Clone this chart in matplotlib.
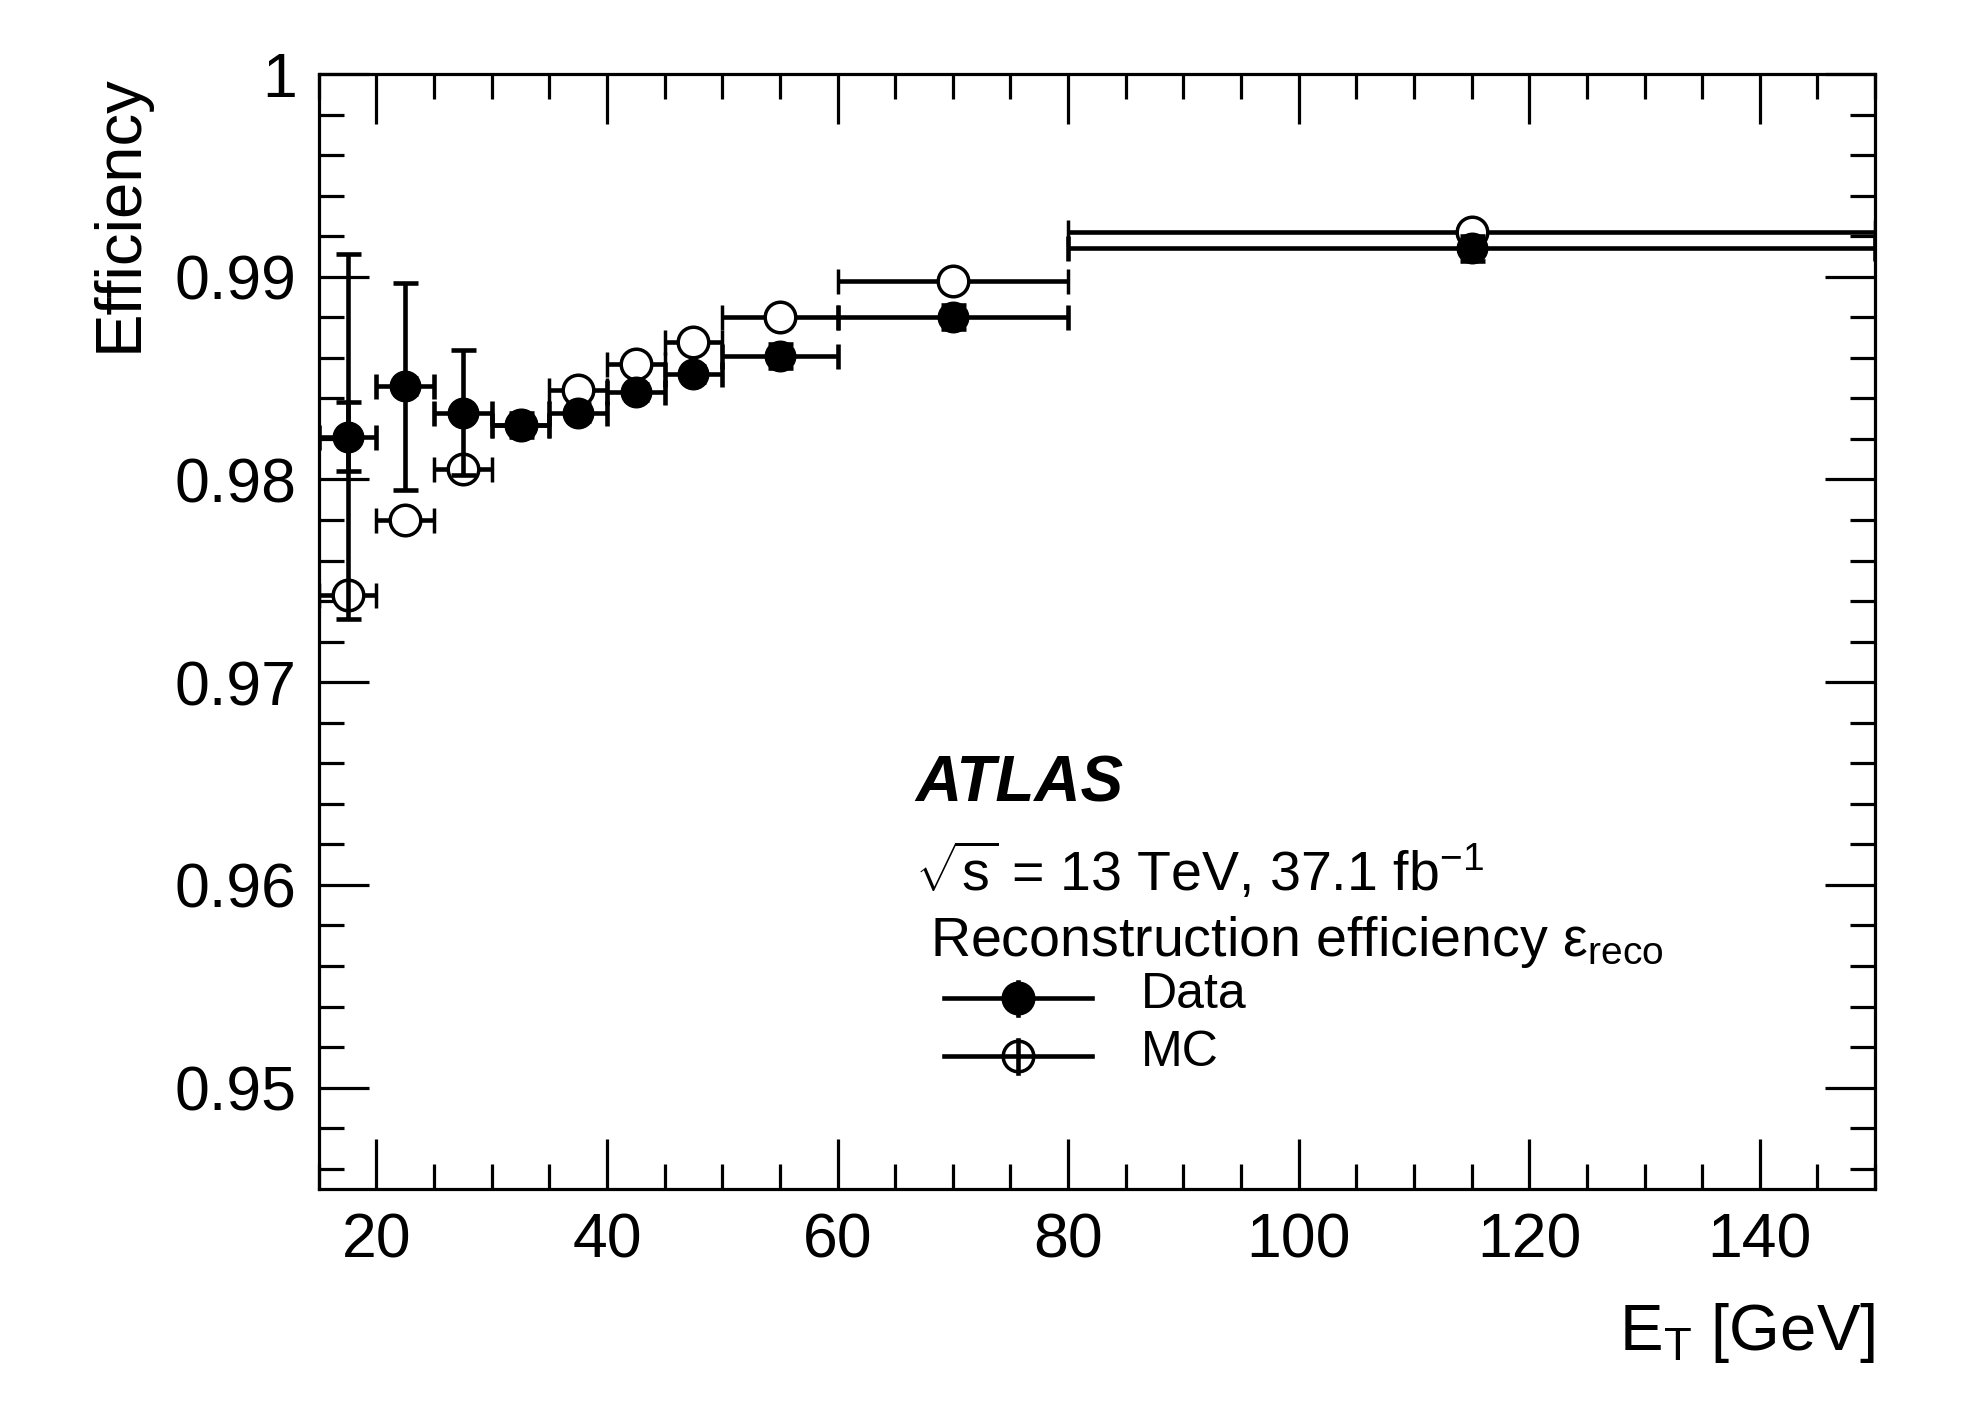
import numpy as np
import matplotlib
matplotlib.use("Agg")
import matplotlib.pyplot as plt
from matplotlib.ticker import MultipleLocator

plt.rcParams["font.family"] = ["Liberation Sans", "DejaVu Sans"]
plt.rcParams["mathtext.fontset"] = "custom"
plt.rcParams["mathtext.rm"] = "Liberation Sans"
plt.rcParams["mathtext.it"] = "Liberation Sans:italic"

# bins in E_T [GeV]
bin_lo = np.array([15, 20, 25, 30, 35, 40, 45, 50, 60, 80])
bin_hi = np.array([20, 25, 30, 35, 40, 45, 50, 60, 80, 150])
data_eff = np.array([0.9821, 0.9846, 0.9833, 0.9827, 0.9833, 0.9843, 0.9852, 0.9861, 0.9880, 0.9914])
data_err = np.array([0.0090, 0.0051, 0.0031, 0.0006, 0.0004, 0.0004, 0.0004, 0.0006, 0.0006, 0.0006])
data_stat = np.array([0.0017, 0.0004, 0.0003, 0.0003, 0.0003, 0.0003, 0.0003, 0.0003, 0.0003, 0.0003])
mc_eff = np.array([0.9743, 0.9780, 0.9805, 0.9827, 0.9844, 0.9857, 0.9868, 0.9880, 0.9898, 0.9922])
mc_err = np.array([0.0002, 0.0002, 0.0002, 0.0002, 0.0002, 0.0002, 0.0002, 0.0002, 0.0002, 0.0002])

x = (bin_lo + bin_hi) / 2
xerr = (bin_hi - bin_lo) / 2

fig = plt.figure(figsize=(19.8, 14.24), dpi=100)
ax = fig.add_axes([0.161, 0.165, 0.786, 0.783])

lw = 3.3
ms = 22
ax.errorbar(x, mc_eff, xerr=xerr, yerr=mc_err, fmt="o", mfc="white", mec="black",
            mew=2.5, ms=ms, color="black", elinewidth=lw, capsize=9, capthick=lw, zorder=2)
ax.errorbar(x, data_eff, xerr=xerr, yerr=data_err, fmt="o", color="black", ms=ms,
            elinewidth=lw, capsize=9, capthick=lw, zorder=3)
ax.errorbar(x, data_eff, yerr=data_stat, fmt="none", ecolor="black",
            elinewidth=lw, capsize=9, capthick=lw, zorder=3)

ax.set_xlim(15, 150)
ax.set_ylim(0.945, 1.0)
ax.xaxis.set_major_locator(MultipleLocator(20))
ax.xaxis.set_minor_locator(MultipleLocator(5))
ax.yaxis.set_major_locator(MultipleLocator(0.01))
ax.yaxis.set_minor_locator(MultipleLocator(0.002))
ax.set_yticks([0.95, 0.96, 0.97, 0.98, 0.99, 1.0])
ax.set_yticklabels(["0.95", "0.96", "0.97", "0.98", "0.99", "1"])
ax.tick_params(which="both", direction="in", top=True, right=True, width=2.3, labelsize=45, pad=16)
ax.tick_params(which="major", length=36)
ax.tick_params(which="minor", length=18)
for s in ax.spines.values():
    s.set_linewidth(2.3)

ax.set_xlabel(r"$\mathregular{E_T}$ [GeV]", fontsize=47, loc="right", labelpad=22)
ax.set_ylabel("Efficiency", fontsize=47, loc="top", labelpad=18)

tr = ax.transAxes
ax.text(0.383, 0.363, "ATLAS", transform=tr, fontsize=46, fontweight="bold", style="italic", va="center")
ax.text(0.383, 0.284, r"$\sqrt{\mathregular{s}}$ = 13 TeV, 37.1 fb$^{\mathregular{-1}}$", transform=tr, fontsize=40, va="center")
ax.text(0.393, 0.222, r"Reconstruction efficiency $\mathregular{\epsilon_{reco}}$", transform=tr, fontsize=40, va="center")

# legend
for yy, filled, lab in [(0.171, True, "Data"), (0.119, False, "MC")]:
    ax.plot([0.402, 0.497], [yy, yy], transform=tr, color="black", lw=lw, clip_on=False)
    ax.plot([0.449, 0.449], [yy - 0.015, yy + 0.015], transform=tr, color="black", lw=lw, clip_on=False)
    ax.plot([0.449], [yy], "o", transform=tr, ms=ms, mec="black", mew=2.5,
            mfc="black" if filled else "none", clip_on=False)
    ax.text(0.528, yy + 0.003, lab, transform=tr, fontsize=36, va="center")

fig.savefig("out.png", dpi=100, facecolor="white")
